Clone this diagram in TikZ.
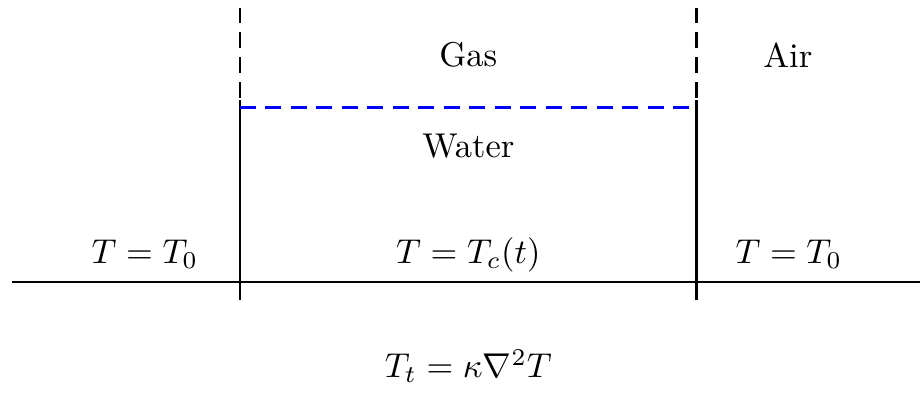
\documentclass[tikz,border=0pt]{standalone}
\begin{document}
\begin{tikzpicture}[xscale=1,yscale=1]
	% Styles
	\tikzstyle{paroi}=[thick]
	\tikzstyle{pointille}=[thick,dash pattern=on 4.6pt off 2.6pt]
	\tikzstyle{niveau}=[blue,thick,dash pattern=on 4.6pt off 2.8pt]
	\tikzstyle{etiquette}=[black]
	% Dimensions
	\def\Largeur{4.66}
	\def\Gauche{-2.33}
	\def\Droite{6.94}
	\def\Bas{-0.18}
	\def\Joint{1.86}
	\def\Haut{2.80}
	\def\Eau{1.78}
	\def\Texte{0.28}
	\def\Ciel{2.32}
	\useasboundingbox (-2.449,-1.143) rectangle (6.949,2.878);
	% Points
	\coordinate (solG) at (\Gauche,0);
	\coordinate (solD) at (\Droite,0);
	\coordinate (pG) at (0,\Bas);
	\coordinate (jG) at (0,\Joint);
	\coordinate (hG) at (0,\Haut);
	\coordinate (pD) at (\Largeur,\Bas);
	\coordinate (jD) at (\Largeur,\Joint);
	\coordinate (hD) at (\Largeur,\Haut);
	\coordinate (eG) at (0,\Eau);
	\coordinate (eD) at (\Largeur,\Eau);
	% Traits
	\draw[paroi] (solG)--(solD);
	\draw[paroi] (pG)--(jG);
	\draw[paroi] (pD)--(jD);
	\draw[pointille] (hG)--(jG);
	\draw[pointille] (hD)--(jD);
	\draw[niveau] (eG)--(eD);
	% Etiquettes
	\node[etiquette] (gaz) at ({\Largeur/2},\Ciel) {Gas};
	\node[etiquette] (air) at (5.59,\Ciel) {Air};
	\node[etiquette] (eau) at ({\Largeur/2},1.39) {Water};
	\node[etiquette] (Tg) at (-0.97,\Texte) {$T=T_0$};
	\node[etiquette] (Tc) at ({\Largeur/2},\Texte) {$T=T_c(t)$};
	\node[etiquette] (Td) at (5.60,\Texte) {$T=T_0$};
	\node[etiquette] (eq) at ({\Largeur/2},-0.86) {$T_t=\kappa\nabla^2T$};
\end{tikzpicture}
\end{document}
